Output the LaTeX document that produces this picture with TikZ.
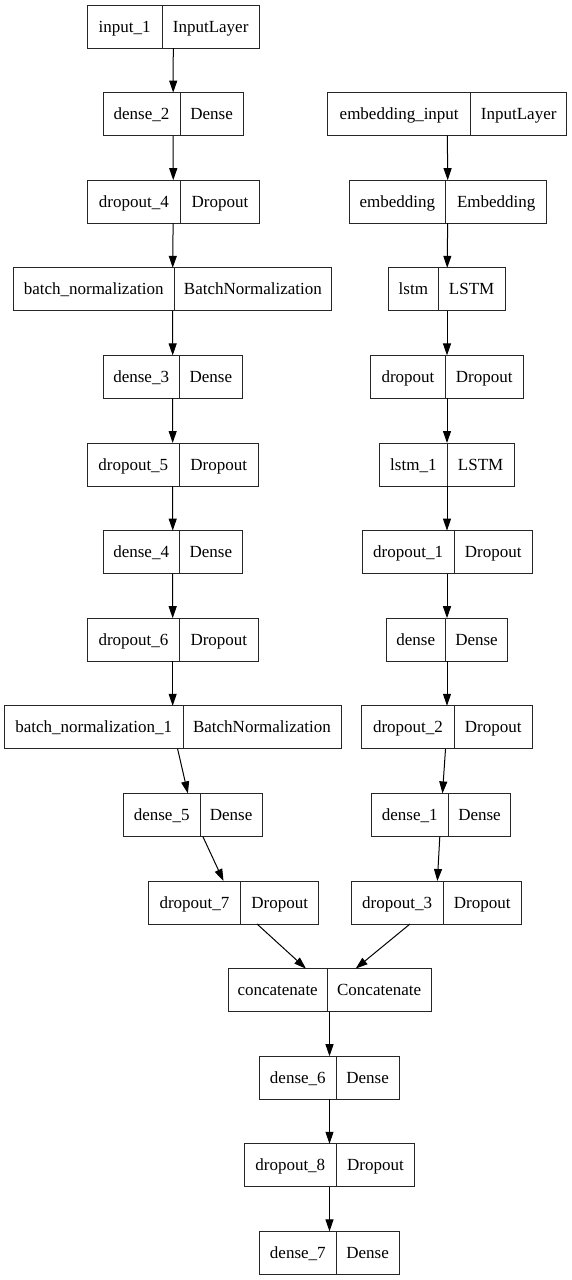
\documentclass[tikz,border=0pt]{standalone}
\usepackage{fontspec}
\setmainfont{Liberation Serif}
\usetikzlibrary{arrows.meta}
\tikzset{
  recbox/.style={draw=black!85, line width=1pt, rectangle, inner sep=0pt, outer sep=0pt, minimum height=43pt, anchor=north west},
  rectext/.style={inner sep=0pt, font=\fontsize{17}{20}\selectfont, text height=12.5pt, text depth=1.3pt},
  recdiv/.style={draw=black!85, line width=1pt},
  arr/.style={line width=1pt, -{Triangle[length=12pt,width=8pt]}},
}
\newcommand\recnode[7]{%
  \node[recbox, minimum width={(#4-#2)*1pt}] (#1) at (#2,#5) {};
  \draw[recdiv] (#3,#5) -- (#3,{#5+43});
  \node[rectext] (#1-l) at ({(#2+#3)/2},{#5+21.5}) {#6};
  \node[rectext] (#1-r) at ({(#3+#4)/2},{#5+21.5}) {#7};
}
\begin{document}
\begin{tikzpicture}[x=1pt,y=-1pt]
\fill[white] (0,0) rectangle (571,1280);
\useasboundingbox (0,0) rectangle (571,1280);
% left column
\recnode{in1}{87.3}{162}{259.3}{5}{input\_1}{InputLayer}
\recnode{d2}{103}{180}{243.3}{92.6}{dense\_2}{Dense}
\recnode{do4}{87.3}{180.5}{259.3}{180.2}{dropout\_4}{Dropout}
\recnode{bn}{13.3}{174}{331.7}{267.8}{batch\_normalization}{BatchNormalization}
\recnode{d3}{103}{179.3}{242.5}{355.4}{dense\_3}{Dense}
\recnode{do5}{87.3}{179.3}{258}{443}{dropout\_5}{Dropout}
\recnode{d4}{103}{179.3}{242.5}{530.6}{dense\_4}{Dense}
\recnode{do6}{87.3}{179.7}{258}{618.2}{dropout\_6}{Dropout}
\recnode{bn1}{4.3}{183}{341}{705.8}{batch\_normalization\_1}{BatchNormalization}
\recnode{d5}{123.3}{200}{262.3}{793.4}{dense\_5}{Dense}
\recnode{do7}{148.3}{240.7}{318.7}{881}{dropout\_7}{Dropout}
% right column
\recnode{ein}{327.7}{470.7}{566.7}{92.6}{embedding\_input}{InputLayer}
\recnode{emb}{349}{445.7}{546.7}{180.2}{embedding}{Embedding}
\recnode{ls}{388.7}{438}{505.3}{267.8}{lstm}{LSTM}
\recnode{do}{370.7}{445.3}{523.3}{355.4}{dropout}{Dropout}
\recnode{ls1}{379.7}{447}{514.3}{443}{lstm\_1}{LSTM}
\recnode{do1}{362}{454.3}{532}{530.6}{dropout\_1}{Dropout}
\recnode{dn}{386.3}{445.3}{507.7}{618.2}{dense}{Dense}
\recnode{do2}{361.7}{454.3}{532.3}{705.8}{dropout\_2}{Dropout}
\recnode{d1}{371.3}{448.3}{510.7}{793.4}{dense\_1}{Dense}
\recnode{do3}{351}{443.3}{521.3}{881}{dropout\_3}{Dropout}
% merged
\recnode{cat}{228}{327.3}{431}{968.6}{concatenate}{Concatenate}
\recnode{d6}{259.7}{336}{399.3}{1056.2}{dense\_6}{Dense}
\recnode{do8}{244.3}{336.3}{414.7}{1143.8}{dropout\_8}{Dropout}
\recnode{d7}{259.7}{336}{399.3}{1231.4}{dense\_7}{Dense}
% edges
\foreach \a/\b in {in1/d2,d2/do4,do4/bn,bn/d3,d3/do5,do5/d4,d4/do6,do6/bn1,bn1/d5,d5/do7,do7/cat,
  ein/emb,emb/ls,ls/do,do/ls1,ls1/do1,do1/dn,dn/do2,do2/d1,d1/do3,do3/cat,
  cat/d6,d6/do8,do8/d7}
  \draw[arr] (\a) -- (\b);
\end{tikzpicture}
\end{document}
